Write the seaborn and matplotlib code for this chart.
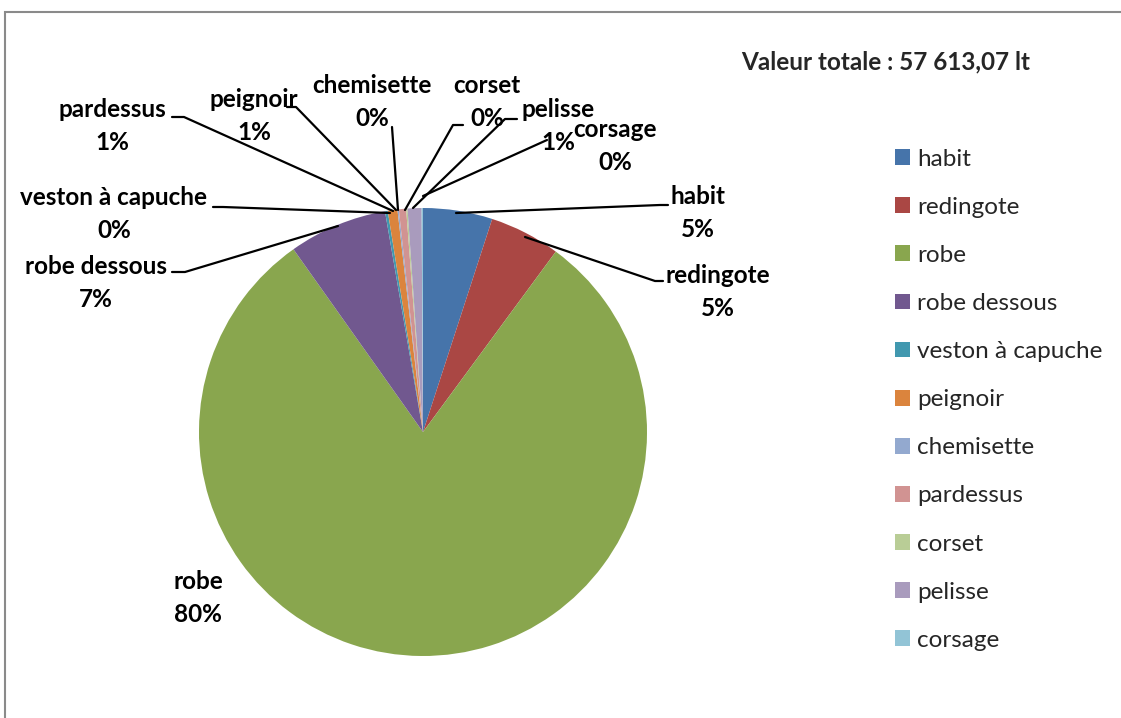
import matplotlib
matplotlib.use("Agg")
import matplotlib.pyplot as plt
import seaborn as sns
from matplotlib.patches import Patch, Rectangle

# data (values in lt)
categories = ["habit", "redingote", "robe", "robe dessous", "veston à capuche",
              "peignoir", "chemisette", "pardessus", "corset", "pelisse", "corsage"]
values = [2880, 2940, 46140, 4090, 115, 400, 58, 300, 58, 576, 58]
colors = ["#4674AA", "#AA4744", "#89A64E", "#71588F", "#4198AF", "#DB843D",
          "#93A9CF", "#D19392", "#B9CD96", "#A99BBD", "#92C4D6"]
title_text = "Valeur totale : 57 613,07 lt"

W, H = 1121, 718

def py(y):
    return H - y

# label centres (pixels) and leader lines
label_pos = {
    "habit": (698, 213), "redingote": (718, 292), "robe": (198, 598),
    "robe dessous": (96, 283), "veston à capuche": (114, 214),
    "pardessus": (112, 126), "peignoir": (254, 116), "chemisette": (372, 102),
    "corset": (487, 102), "pelisse": (558, 126), "corsage": (615, 146),
}
leaders = {
    "habit": [(668, 205), (660, 205), (456, 213)],
    "redingote": [(663, 281), (655, 281), (525, 237)],
    "robe dessous": [(172, 272), (185, 272), (338, 226)],
    "veston à capuche": [(213, 207), (223, 207), (390, 213)],
    "pardessus": [(172, 117), (184, 117), (393, 211)],
    "peignoir": [(287, 107), (296, 107), (396, 210)],
    "chemisette": [(392, 127), (398, 210)],
    "corset": [(463, 125), (453, 125), (405, 210)],
    "pelisse": [(517, 119), (505, 119), (413, 208)],
    "corsage": [(547, 140), (423, 196)],
}

sns.set_theme(style="white")
plt.rcParams["font.family"] = ["Lato", "DejaVu Sans"]

fig = plt.figure(figsize=(W / 100, H / 100), dpi=100)
ax = fig.add_axes([0, 0, 1, 1])

ax.pie(values, colors=colors, startangle=90, counterclock=False,
       center=(423, py(432)), radius=224, wedgeprops=dict(linewidth=0))
ax.set_xlim(0, W)
ax.set_ylim(0, H)
ax.set_aspect("equal")
ax.set_axis_off()

total = sum(values)
for cat, v in zip(categories, values):
    x, y = label_pos[cat]
    if cat in leaders:
        pts = leaders[cat]
        ax.plot([p[0] for p in pts], [py(p[1]) for p in pts], color="black", lw=1.6)
    ax.text(x, py(y), f"{cat}\n{v / total * 100:.0f}%", ha="center", va="center",
            fontsize=17.5, fontweight="bold", linespacing=1.55, color="black")

ax.text(886, py(62), title_text, ha="center", va="center",
        fontsize=17.5, fontweight="bold")

handles = [Patch(facecolor=c, edgecolor="none", label=l) for c, l in zip(colors, categories)]
ax.legend(handles=handles, loc="upper left", bbox_to_anchor=(885 / W, 1 - 139 / H),
          frameon=False, fontsize=17.5, handlelength=0.62, handleheight=0.62,
          handletextpad=0.3, labelspacing=1.115, borderaxespad=0)

# outer chart border
ax.add_patch(Rectangle((5, -20), 1140, py(12) + 20, fill=False,
                       edgecolor="#8a8a8a", lw=1.5, clip_on=False))

fig.savefig("out.png", dpi=100)
